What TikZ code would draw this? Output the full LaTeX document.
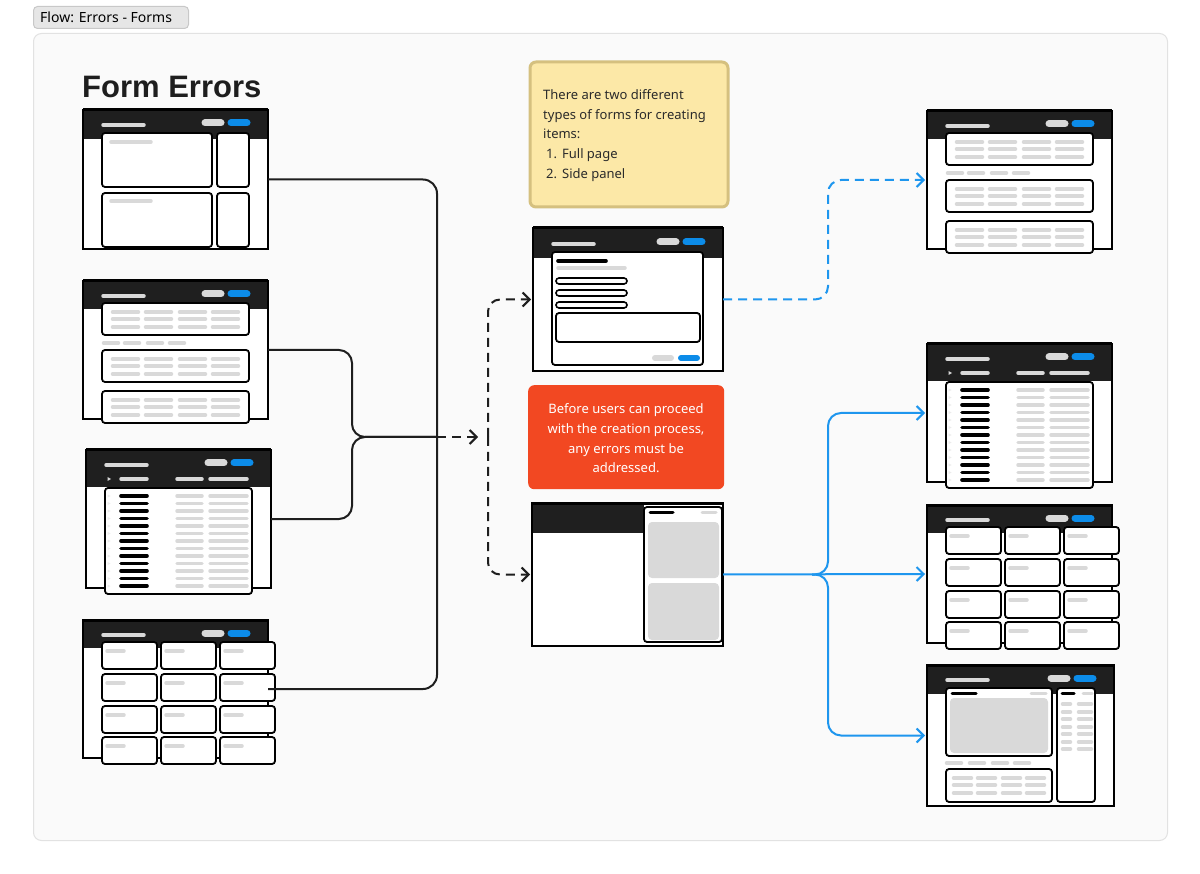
\documentclass[tikz,border=0pt]{standalone}
\usepackage{fontspec}
\setmainfont{Noto Sans}
\newfontfamily\headfont{Liberation Sans}
\usetikzlibrary{arrows.meta}

\definecolor{canvas}{HTML}{FAFAFA}
\definecolor{canvasedge}{HTML}{E2E2E2}
\definecolor{tagfill}{HTML}{E6E6E6}
\definecolor{tagedge}{HTML}{C8C8C8}
\definecolor{ink}{HTML}{1E1E1E}
\definecolor{hdr}{HTML}{1F1F1F}
\definecolor{skel}{HTML}{D9D9D9}
\definecolor{accent}{HTML}{0C8CE9}
\definecolor{flowblue}{HTML}{1E96EE}
\definecolor{notefill}{HTML}{FCE8A7}
\definecolor{noteedge}{HTML}{D5C07F}
\definecolor{notetext}{HTML}{2B2B2B}
\definecolor{alertfill}{HTML}{F24822}

\tikzset{
  wfbody/.style={fill=white, draw=none, inner sep=0pt, outer sep=0pt},
  wfedge/.style={draw=black, line width=2pt},
  card/.style={fill=white, draw=black, line width=1.8pt, rounded corners=3pt},
  skelbar/.style={draw=skel, line width=3.5pt, line cap=round},
  inkbar/.style={draw=black, line width=3.6pt, line cap=round},
  pillgray/.style={draw=skel, line width=7pt, line cap=round},
  pillblue/.style={draw=accent, line width=7pt, line cap=round},
  conn/.style={draw=ink, line width=2pt},
  bconn/.style={draw=flowblue, line width=2pt},
  tip/.style={-{Straight Barb[length=7pt,width=14pt]}, shorten >=2pt},
  dashline/.style={dash pattern=on 9pt off 6pt},
}

% window shell: name, width, height, header depth
\newcommand{\wfshell}[4]{%
  \node[wfbody, minimum width=#2pt, minimum height=#3pt, anchor=north west] (#1) at (0,0) {};
  \fill[hdr] (0,0) rectangle (#2,#4);
  \draw[wfedge] (0,0) rectangle (#2,#3);
  \draw[line width=3pt] (0,0) -- (#2,0);
}
% header title bar and the two buttons
\newcommand{\wftitle}[2]{%
  \draw[skelbar] (20,#2+2) -- (61,#2+2);
  \draw[pillgray] (#1-63,#2) -- (#1-47,#2);
  \draw[pillblue] (#1-37,#2) -- (#1-21,#2);
}

% split layout: two wide cards and two narrow cards
\newcommand{\wfSplit}[3]{%
  \begin{scope}[shift={(#2,#3)}]
    \wfshell{#1}{185}{139}{29}
    \wftitle{185}{13}
    \draw[card] (19,23) rectangle (129,77);
    \draw[card] (134,23) rectangle (166,77);
    \draw[card] (19,83) rectangle (129,137);
    \draw[card] (134,83) rectangle (166,137);
    \draw[skelbar] (28,32) -- (68,32);
    \draw[skelbar] (28,91) -- (68,91);
  \end{scope}
}

% list layout: three stacked cards of text rows
\newcommand{\wfList}[3]{%
  \begin{scope}[shift={(#2,#3)}]
    \wfshell{#1}{185}{138}{28}
    \wftitle{185}{13}
    \foreach \ty in {22,69,110} {
      \draw[card] (19,\ty) rectangle (166,\ty+32);
      \foreach \dy in {9,16,24}
        \foreach \cx in {28,61,95,128}
          \draw[skelbar] (\cx+1.5,\ty+\dy) -- (\cx+27.5,\ty+\dy);
    }
    \foreach \cx in {19,40,63,85}
      \draw[skelbar] (\cx+1.5,62) -- (\cx+16.5,62);
  \end{scope}
}

% table layout: column header row and a card of rows
\newcommand{\wfTable}[3]{%
  \begin{scope}[shift={(#2,#3)}]
    \wfshell{#1}{185}{138}{37}
    \wftitle{185}{13}
    \fill[skel] (21.5,27) -- (25,29) -- (21.5,31) -- cycle;
    \draw[skelbar] (35,29) -- (61,29);
    \draw[skelbar] (91,29) -- (116,29);
    \draw[skelbar] (124,29) -- (161,29);
    \draw[card] (19,38) rectangle (166,144);
    \foreach \i in {0,...,12} {
      \pgfmathsetmacro{\ry}{46+7.5*\i}
      \fill[skel!50] (21.5,\ry-1.5) -- (24.5,\ry) -- (21.5,\ry+1.5) -- cycle;
      \draw[inkbar] (35,\ry) -- (61,\ry);
      \draw[skelbar] (91,\ry) -- (116,\ry);
      \draw[skelbar] (124,\ry) -- (161,\ry);
    }
  \end{scope}
}

% grid layout: three by four tiles
\newcommand{\wfGrid}[3]{%
  \begin{scope}[shift={(#2,#3)}]
    \wfshell{#1}{185}{138}{28}
    \wftitle{185}{13}
    \foreach \ty in {22,54,86,117}
      \foreach \cx in {19,78,137} {
        \draw[card] (\cx,\ty) rectangle (\cx+55,\ty+27);
        \draw[skelbar] (\cx+5,\ty+9) -- (\cx+22,\ty+9);
      }
  \end{scope}
}

% dashboard layout: media card, table card and a side column
\newcommand{\wfDash}[3]{%
  \begin{scope}[shift={(#2,#3)}]
    \wfshell{#1}{187}{141}{29}
    \wftitle{187}{13}
    \draw[card] (19,23) rectangle (125,91);
    \draw[inkbar, line width=3pt] (25,28) -- (49,28);
    \draw[skelbar, line width=3pt] (104,28) -- (119,28);
    \fill[skel, rounded corners=4pt] (23,33) rectangle (121,88);
    \foreach \cx in {18,41,64,86}
      \draw[skelbar] (\cx+1.5,98) -- (\cx+16.5,98);
    \draw[card] (19,104) rectangle (125,137);
    \foreach \dy in {113,120,128}
      \foreach \cx in {25,49,74,98}
        \draw[skelbar] (\cx+1.5,\dy) -- (\cx+19.5,\dy);
    \draw[card] (130,23) rectangle (168,137);
    \draw[inkbar, line width=3pt] (135,28) -- (147,28);
    \draw[skelbar, line width=3pt] (156,28) -- (165,28);
    \foreach \dy in {39,47,54,62,69,77,84} {
      \draw[skelbar] (135.5,\dy) -- (143.5,\dy);
      \draw[skelbar] (151.5,\dy) -- (164.5,\dy);
    }
  \end{scope}
}

% full page form in a modal card
\newcommand{\wfForm}[3]{%
  \begin{scope}[shift={(#2,#3)}]
    \wfshell{#1}{190}{143}{30}
    \wftitle{190}{14}
    \draw[card] (19,24) rectangle (170,137);
    \draw[inkbar] (25,33) -- (73,33);
    \draw[skelbar] (25,40) -- (92,40);
    \foreach \ty in {50,62,74}
      \draw[card, line width=1.6pt] (23,\ty) rectangle (94,\ty+6);
    \draw[card] (23,85) rectangle (167,114);
    \draw[draw=skel, line width=6pt, line cap=round] (122,130) -- (138,130);
    \draw[draw=accent, line width=6pt, line cap=round] (148,130) -- (164,130);
  \end{scope}
}

% page with a side panel form
\newcommand{\wfPanel}[3]{%
  \begin{scope}[shift={(#2,#3)}]
    \node[wfbody, minimum width=191pt, minimum height=143pt, anchor=north west] (#1) at (0,0) {};
    \fill[hdr] (0,0) rectangle (112,30);
    \draw[wfedge] (0,0) rectangle (191,143);
    \draw[line width=3pt] (0,0) -- (191,0);
    \draw[card] (112,4) rectangle (190,139);
    \draw[inkbar, line width=3pt] (118,9) -- (141,9);
    \draw[skelbar, line width=3pt] (170,9) -- (184,9);
    \fill[skel, rounded corners=4pt] (116,19) rectangle (187,75);
    \fill[skel, rounded corners=4pt] (116,80) rectangle (187,137);
  \end{scope}
}

\begin{document}
\begin{tikzpicture}[x=1pt, y=-1pt]
  \useasboundingbox (0,0) rectangle (1200,874);
  \fill[white] (0,0) rectangle (1200,874);

  % section tag and canvas
  \node[fill=tagfill, draw=tagedge, line width=1pt, rounded corners=4pt,
        minimum width=155pt, minimum height=22pt, anchor=north west] (tag) at (33,6) {};
  \node[anchor=west, inner sep=0pt, font=\fontsize{14}{16}\selectfont] (tagtext) at (40,17.5) {Flow: Errors - Forms};
  \node[fill=canvas, draw=canvasedge, line width=1pt, rounded corners=8pt,
        minimum width=1134pt, minimum height=807pt, anchor=north west] (board) at (33,33) {};

  \node[anchor=base west, inner sep=0pt, font=\headfont\fontsize{31}{36}\selectfont\bfseries, text=ink] (title) at (82,98) {Form Errors};

  % source screens
  \wfSplit{wf1}{83}{110}
  \wfList{wf2}{83}{281}
  \wfTable{wf3}{86}{450}
  \wfGrid{wf4}{83}{620}

  % notes
  \node[fill=notefill, draw=noteedge, line width=3pt, rounded corners=6pt,
        minimum width=198pt, minimum height=145pt, anchor=north west] (note) at (528.5,60.5) {};
  \node[anchor=north west, inner sep=0pt, align=left, text=notetext,
        font=\fontsize{13}{19.6}\selectfont] (notetext) at (543,89.5)
        {There are two different\\types of forms for creating\\items:\\
         \hspace*{3pt}1.\hspace*{5pt}Full page\\\hspace*{3pt}2.\hspace*{5pt}Side panel};
  \node[fill=alertfill, rounded corners=6pt, minimum width=196pt, minimum height=104pt,
        anchor=north west] (alert) at (528,385) {};
  \node[align=center, text=white, inner sep=0pt, font=\fontsize{13}{19.6}\selectfont] (alerttext) at (626,438.5)
        {Before users can proceed\\with the creation process,\\any errors must be\\addressed.};

  % form variants
  \wfForm{form}{533}{228}
  \wfPanel{panel}{532}{503}

  % result screens
  \wfList{r1}{927}{111}
  \wfTable{r2}{927}{344}
  \wfGrid{r3}{927}{505}
  \wfDash{r4}{927}{665}

  % junction points
  \coordinate (busL) at (437,437);
  \coordinate (jn) at (352,437);
  \coordinate (hubtip) at (480,437);
  \coordinate (splitM) at (488,437);
  \coordinate (busR) at (828,240);
  \coordinate (jr) at (812,574.5);
  \coordinate (busRup) at (828,500);
  \coordinate (busRdn) at (828,650);

  % incoming flows
  \draw[conn, rounded corners=14pt] (wf1.east) -| (busL) |- (wf4.east);
  \draw[conn, rounded corners=13pt] (wf2.east) -| (jn) -- (busL);
  \draw[conn, rounded corners=13pt] (wf3.east) -| (jn) -- (busL);
  \draw[conn, tip, dashline] (busL) -- (hubtip);

  % choice of form type
  \draw[conn, tip, dashline, rounded corners=12pt] (splitM) |- (form.west);
  \draw[conn, tip, dashline, rounded corners=12pt] (splitM) |- (panel.west);

  % outgoing flows
  \draw[bconn, tip, dashline, rounded corners=13pt] (form.east) -| (busR) |- (r1.west);
  \draw[bconn, tip] (panel.east) -- (r3.west);
  \draw[bconn, tip, rounded corners=13pt] (jr) -| (busRup) |- (r2.west);
  \draw[bconn, tip, rounded corners=13pt] (jr) -| (busRdn) |- (r4.west);
\end{tikzpicture}
\end{document}
